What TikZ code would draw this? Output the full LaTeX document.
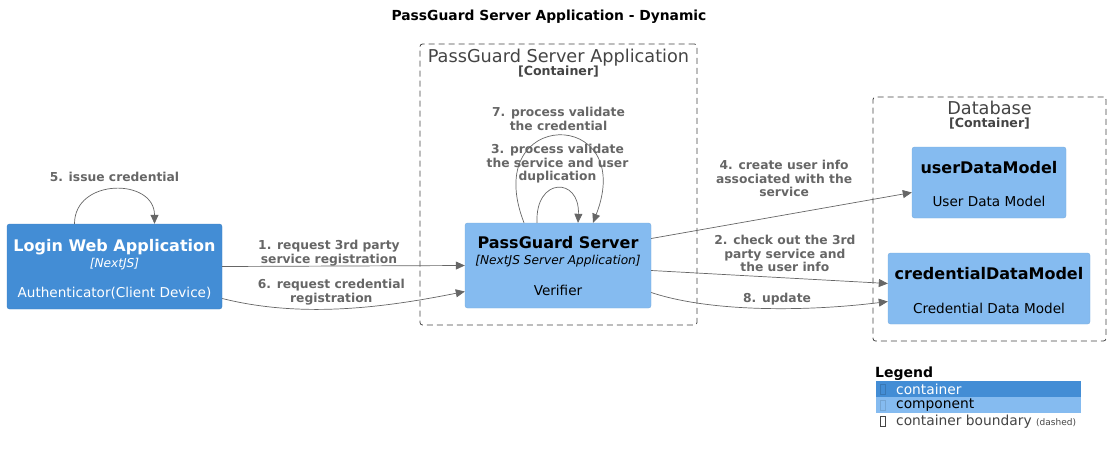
\documentclass[tikz,border=0pt]{standalone}
\usepackage{fontspec}
\setmainfont{DejaVu Sans}
\usetikzlibrary{arrows.meta}
\usetikzlibrary{calc}
\usetikzlibrary{positioning}
\definecolor{containerblue}{HTML}{438DD5}
\definecolor{componentblue}{HTML}{85BBF0}
\definecolor{arrowgray}{HTML}{666666}
\definecolor{boundarygray}{HTML}{444444}
\tikzstyle{container}=[rectangle, rounded corners=2.5pt, fill=containerblue, draw=containerblue!92!black, text=white, inner sep=0pt, text centered]
\tikzstyle{component}=[rectangle, rounded corners=2.5pt, fill=componentblue, draw=componentblue!92!black, text=black, inner sep=0pt, text centered]
\tikzstyle{boundary}=[rectangle, rounded corners=2.5pt, draw=boundarygray, line width=0.8pt, dash pattern=on 6pt off 4pt, inner sep=0pt]
\tikzstyle{tran}=[draw=arrowgray, -{Triangle[length=9pt,width=8pt]}, line width=0.7pt]
\tikzstyle{tranlabel}=[font=\bfseries\fontsize{12.3}{13.3}\selectfont, text=arrowgray, align=center, inner sep=1pt]
\tikzstyle{legendrow}=[rectangle, minimum width=205pt, minimum height=16pt, inner sep=0pt, anchor=north west]
\tikzstyle{tofu}=[rectangle, minimum width=4.5pt, minimum height=9.5pt, inner sep=0pt, line width=0.6pt]
\newcommand{\titlefont}{\bfseries\fontsize{16}{17}\selectfont}
\newcommand{\techfont}{\itshape\fontsize{12.2}{13}\selectfont}
\newcommand{\descfont}{\fontsize{13.6}{15}\selectfont}
\newcommand{\bnameFont}{\fontsize{17.7}{19}\selectfont}
\newcommand{\btypeFont}{\bfseries\fontsize{12.6}{13}\selectfont}

\begin{document}
\begin{tikzpicture}[x=1pt, y=-1pt]
\useasboundingbox (0,0) rectangle (1111,456);

\node[font=\bfseries\fontsize{13.85}{15}\selectfont] (title) at (549,17) {PassGuard Server Application - Dynamic};

% boundaries
\node[boundary, minimum width=277pt, minimum height=281pt] (serverapp) at (558.5,184.5) {};
\node[anchor=north, text=boundarygray, inner sep=0pt] (serverapptitle) at ([yshift=-5pt]serverapp.north)
{
\begin{tabular}{c}
{\bnameFont PassGuard Server Application}\\[0pt]
{\btypeFont [Container]}
\end{tabular}
};

\node[boundary, minimum width=233pt, minimum height=244pt] (database) at (989.5,219) {};
\node[anchor=north, text=boundarygray, inner sep=0pt] (databasetitle) at ([yshift=-4pt]database.north)
{
\begin{tabular}{c}
{\bnameFont Database}\\[0pt]
{\btypeFont [Container]}
\end{tabular}
};

% elements
\node[container, minimum width=215pt, minimum height=85pt] (login) at (114.5,266.5)
{
\begin{tabular}{c}
\rule{0pt}{19pt}{\titlefont Login Web Application}\\[3pt]
{\techfont [NextJS]}\\[16pt]
{\descfont Authenticator(Client Device)}
\end{tabular}
};

\node[component, minimum width=186pt, minimum height=85pt] (server) at (558,265.5)
{
\begin{tabular}{c}
\rule{0pt}{17pt}{\titlefont PassGuard Server}\\[3pt]
{\techfont [NextJS Server Application]}\\[17pt]
{\descfont Verifier}
\end{tabular}
};

\node[component, minimum width=154pt, minimum height=71pt] (user) at (989,182.5)
{
\begin{tabular}{c}
\rule{0pt}{19pt}{\titlefont userDataModel}\\[19.5pt]
{\descfont User Data Model}
\end{tabular}
};

\node[component, minimum width=202pt, minimum height=71pt] (cred) at (989,288.5)
{
\begin{tabular}{c}
\rule{0pt}{19pt}{\titlefont credentialDataModel}\\[20pt]
{\descfont Credential Data Model}
\end{tabular}
};

% interactions
\draw[tran] (login.east) to node[tranlabel, above, pos=0.44, yshift=-1pt] {1. request 3rd party\\service registration} (server.west);
\draw[tran] ([yshift=-5pt]server.east) to node[tranlabel, above, pos=0.565, yshift=5pt] {2. check out the 3rd\\party service and\\the user info} ([yshift=5pt]cred.west);
\draw[tran] ([xshift=-21pt]server.north) .. controls +(-2,-46) and +(2,-46) .. node[tranlabel, above, yshift=4pt] {3. process validate\\the service and user\\duplication} ([xshift=20pt]server.north);
\draw[tran] ([yshift=27pt]server.east) to node[tranlabel, above, pos=0.51, yshift=17pt] {4. create user info\\associated with the\\service} ([yshift=-10pt]user.west);
\draw[tran] ([xshift=-40pt]login.north) .. controls +(0,-46) and +(0,-46) .. node[tranlabel, above, yshift=6pt] {5. issue credential} ([xshift=40pt]login.north);
\draw[tran] ([yshift=-32pt]login.east) .. controls +(80,20) and +(-80,16) .. node[tranlabel, above, pos=0.45, yshift=3pt] {6. request credential\\registration} ([yshift=-26pt]server.west);
\draw[tran] ([xshift=-34pt]server.north) .. controls +(-45,-116) and +(45,-116) .. node[tranlabel, above, yshift=4pt] {7. process validate\\the credential} ([xshift=35pt]server.north);
\draw[tran] ([yshift=-27pt]server.east) .. controls +(60,20) and +(-80,10) .. node[tranlabel, above, pos=0.56, yshift=2pt] {8. update} ([yshift=-13pt]cred.west);

% legend
\node[anchor=west, inner sep=0pt, font=\bfseries\fontsize{14}{15}\selectfont] (legend) at (875,374) {Legend};
\node[legendrow, fill=containerblue] (legcontainer) at (876,381) {};
\node[legendrow, fill=componentblue] (legcomponent) at (876,397) {};
\node[legendrow] (legboundary) at (876,413) {};
\node[anchor=west, text=white, inner sep=0pt, font=\fontsize{13.8}{15}\selectfont] (legcontainertext) at ([xshift=20pt]legcontainer.west) {container};
\node[anchor=west, text=black, inner sep=0pt, font=\fontsize{13.8}{15}\selectfont] (legcomponenttext) at ([xshift=20pt]legcomponent.west) {component};
\node[anchor=west, text=boundarygray, inner sep=0pt, font=\fontsize{13.8}{15}\selectfont] (legboundarytext) at ([xshift=20pt]legboundary.west) {container boundary {\fontsize{9}{10}\selectfont (dashed)}};
\node[tofu, draw=containerblue!85!black] (legcontainertofu) at ([xshift=7pt]legcontainer.west) {};
\node[tofu, draw=componentblue!88!black] (legcomponenttofu) at ([xshift=7pt]legcomponent.west) {};
\node[tofu, draw=boundarygray] (legboundarytofu) at ([xshift=7pt]legboundary.west) {};

\end{tikzpicture}
\end{document}
